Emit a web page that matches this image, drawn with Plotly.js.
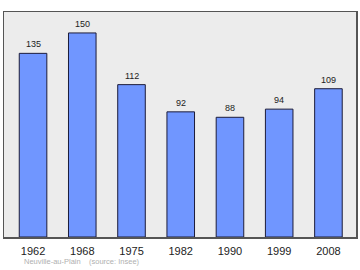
<!DOCTYPE html>
<html><head><meta charset="utf-8">
<script src="https://cdn.plot.ly/plotly-3.0.1.min.js"></script>
<style>html,body{margin:0;padding:0;background:#fff}#chart{width:360px;height:270px}</style>
</head><body><div id="chart"></div>
<script>
const years = ["1962","1968","1975","1982","1990","1999","2008"];
const population = [135,150,112,92,88,94,109];
const sourceText = "Neuville-au-Plain    (source: Insee)";

const FONT = 'Liberation Sans, Arial, sans-serif';
const annotations = years.map((y,i)=>({
  x: i, y: population[i], xref:'x', yref:'y', text: String(population[i]),
  showarrow:false, yanchor:'bottom', yshift:2,
  font:{family:FONT, size:9, color:'#222'}
}));
annotations.push({
  x:0.051, y:-0.11, xref:'paper', yref:'paper', xanchor:'left', yanchor:'middle',
  text: sourceText.replace(/ /g,'&nbsp;'), showarrow:false,
  font:{family:FONT, size:7.5, color:'#b0b0b0'}
});

Plotly.newPlot('chart',[{
  type:'bar', x:years, y:population,
  marker:{color:'#7096ff', line:{color:'#1c1c3a', width:1}},
  width:0.56, hoverinfo:'none'
}],{
  width:360, height:270,
  margin:{l:4,r:4,t:12,b:33,pad:0},
  paper_bgcolor:'#ffffff', plot_bgcolor:'#ececec',
  showlegend:false,
  xaxis:{type:'category', range:[-0.59,6.56], showline:true, mirror:true, linecolor:'#555', linewidth:1.5,
    ticks:'', showgrid:false, zeroline:false,
    tickfont:{family:FONT, size:11, color:'#222'}, ticklabelstandoff:3},
  yaxis:{range:[0,165.4], showline:true, mirror:true, linecolor:'#555', linewidth:1.5,
    showticklabels:false, ticks:'', showgrid:false, zeroline:false},
  annotations: annotations
},{staticPlot:true, displayModeBar:false});
</script></body></html>
